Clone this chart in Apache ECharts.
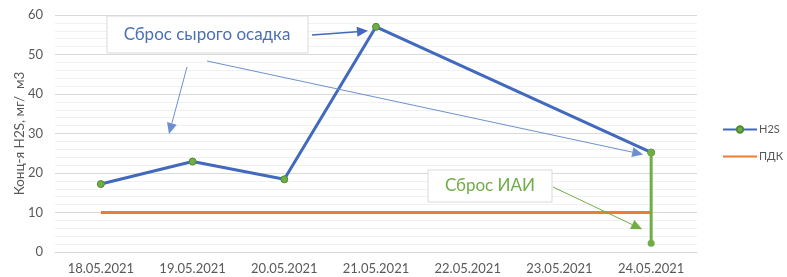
<!DOCTYPE html>
<html>
<head>
<meta charset="utf-8">
<script src="https://cdn.jsdelivr.net/npm/echarts@6/dist/echarts.min.js"></script>
<style>
  html, body { margin: 0; padding: 0; background: #fff; }
  #chart { width: 787px; height: 277px; }
</style>
</head>
<body>
<div id="chart"></div>
<script>
var dates = ['18.05.2021', '19.05.2021', '20.05.2021', '21.05.2021', '22.05.2021', '23.05.2021', '24.05.2021'];
var h2s = [17.2, 22.9, 18.4, 57.0, null, null, 25.2];
var pdk = [10, 10, 10, 10, 10, 10, 10];
var iaiDrop = [['24.05.2021', 25.2], ['24.05.2021', 2.2]];

var blue = '#4169BE';
var green = '#70AD47';
var orange = '#ED7D31';
var grey = '#595959';

var myChart = echarts.init(document.getElementById('chart'), null, { renderer: 'canvas' });

var option = {
  animation: false,
  textStyle: { fontFamily: 'Lato' },
  grid: { left: 55, right: 90, top: 15, bottom: 25, outerBoundsMode: 'none', containLabel: false },
  legend: {
    data: ['H2S', { name: 'ПДК', itemStyle: { opacity: 0 } }],
    orient: 'vertical',
    left: 722,
    top: 124,
    padding: 0,
    itemWidth: 34,
    itemHeight: 8,
    itemGap: 16,
    textStyle: { color: grey, fontSize: 11, fontFamily: 'Lato', padding: [0, 0, 0, -3] }
  },
  xAxis: {
    type: 'category',
    data: dates,
    axisLine: { lineStyle: { color: '#d9d9d9' } },
    axisTick: { show: false },
    axisLabel: { color: grey, fontSize: 13, margin: 10 }
  },
  yAxis: {
    type: 'value',
    min: 0,
    max: 60,
    interval: 10,
    name: 'Конц-я H2S, мг/  м3',
    nameLocation: 'middle',
    nameGap: 28,
    nameMoveOverlap: false,
    nameTextStyle: { color: grey, fontSize: 13.5 },
    axisLabel: { color: grey, fontSize: 13, margin: 12 },
    splitLine: { lineStyle: { color: '#d9d9d9' } },
    minorTick: { show: false, splitNumber: 5 },
    minorSplitLine: { show: true, lineStyle: { color: '#f1f1f1' } }
  },
  series: [
    {
      name: 'H2S',
      type: 'line',
      data: h2s,
      connectNulls: true,
      color: blue,
      lineStyle: { color: blue, width: 3 },
      symbol: 'circle',
      symbolSize: 7,
      itemStyle: { color: green, borderColor: '#4e8a33', borderWidth: 1 },
      z: 3
    },
    {
      name: 'ПДК',
      type: 'line',
      data: pdk,
      color: orange,
      lineStyle: { color: orange, width: 3 },
      showSymbol: false,
      symbol: 'none',
      z: 2
    },
    {
      name: 'ИАИ',
      type: 'line',
      data: iaiDrop,
      lineStyle: { color: green, width: 3 },
      symbol: 'circle',
      symbolSize: 7,
      itemStyle: { color: green },
      z: 4
    }
  ]
};

if (option && typeof option === 'object') {
  myChart.setOption(option);
}

// annotations: arrow ends placed on the data points via the chart's own scales
function px(cat, val) {
  return myChart.convertToPixel({ seriesIndex: 0 }, [cat, val]);
}

function arrow(x1, y1, x2, y2, color, width) {
  var ang = Math.atan2(y2 - y1, x2 - x1);
  var len = 11, half = 5;
  var bx = x2 - len * Math.cos(ang), by = y2 - len * Math.sin(ang);
  var nx = -Math.sin(ang), ny = Math.cos(ang);
  return [
    { type: 'line', shape: { x1: x1, y1: y1, x2: bx, y2: by }, style: { stroke: color, lineWidth: width }, z: 10 },
    { type: 'polygon', shape: { points: [[x2, y2], [bx + nx * half, by + ny * half], [bx - nx * half, by - ny * half]] }, style: { fill: color }, z: 10 }
  ];
}

var p21 = px('21.05.2021', 57.0);
var p24 = px('24.05.2021', 25.2);
var p24low = px('24.05.2021', 2.2);
var arrowBlue = '#6E8FCF';

var g = [];
g.push({ type: 'rect', shape: { x: 107, y: 16, width: 201, height: 37 }, style: { fill: '#fff', stroke: '#d9d9d9', lineWidth: 1 }, z: 11 });
g.push({ type: 'text', x: 207, y: 35, style: { text: 'Сброс сырого осадка', fill: '#4A6FB5', fontSize: 17, fontFamily: 'Lato', align: 'center', verticalAlign: 'middle' }, z: 12 });
g.push({ type: 'rect', shape: { x: 428, y: 170, width: 124, height: 32 }, style: { fill: '#fff', stroke: '#d9d9d9', lineWidth: 1 }, z: 11 });
g.push({ type: 'text', x: 490, y: 186, style: { text: 'Сброс ИАИ', fill: green, fontSize: 17, fontFamily: 'Lato', align: 'center', verticalAlign: 'middle' }, z: 12 });

g = g.concat(arrow(312, 35, p21[0] - 8, p21[1] + 4, blue, 1.5));
g = g.concat(arrow(187, 67, 169, 134, arrowBlue, 1));
g = g.concat(arrow(207, 61, p24[0] - 8, p24[1] + 2, arrowBlue, 1));
g = g.concat(arrow(553, 187, p24low[0] - 9, p24low[1] - 14, green, 1));

myChart.setOption({ graphic: g });

window.addEventListener('resize', myChart.resize);
</script>
</body>
</html>
